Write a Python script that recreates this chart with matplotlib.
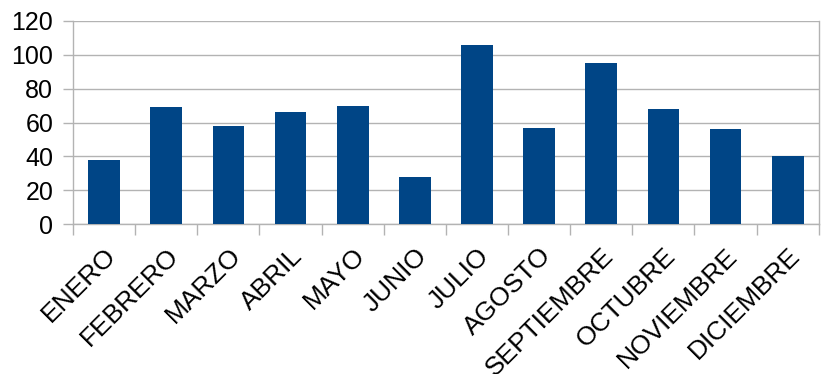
import numpy as np
import matplotlib.pyplot as plt
from matplotlib.ticker import FixedLocator

meses = ["ENERO", "FEBRERO", "MARZO", "ABRIL", "MAYO", "JUNIO", "JULIO",
         "AGOSTO", "SEPTIEMBRE", "OCTUBRE", "NOVIEMBRE", "DICIEMBRE"]
valores = [38, 69, 58, 66, 70, 28, 106, 57, 95, 68, 56, 40]
y_ticks = [0, 20, 40, 60, 80, 100, 120]

plt.rcParams['font.family'] = ['Liberation Sans', 'DejaVu Sans']
gris = "#b3b3b3"

fig = plt.figure(figsize=(8.27, 3.74), dpi=100)
ax = fig.add_axes([0.0883, 0.401, 0.9017, 0.5429])

x = np.arange(len(meses))
ax.bar(x, valores, width=0.51, color="#004586", zorder=3)

ax.set_xlim(-0.5, len(meses) - 0.5)
ax.set_ylim(0, 120)
ax.set_yticks(y_ticks)
ax.yaxis.grid(True, color=gris, linewidth=1.0, zorder=0)

# category labels on major ticks, boundary marks on minor ticks
ax.set_xticks(x)
ax.set_xticklabels(meses, rotation=45, ha="right", rotation_mode="anchor", fontsize=19)
ax.xaxis.set_minor_locator(FixedLocator(np.arange(-0.5, len(meses), 1.0)))
ax.tick_params(axis="x", which="major", length=0, pad=14)
ax.tick_params(axis="x", which="minor", length=8, width=1.0, color=gris, direction="out")
ax.tick_params(axis="y", length=7.2, width=1.0, color=gris, labelsize=18, pad=7)

for side in ["left", "right", "bottom"]:
    ax.spines[side].set_color(gris)
    ax.spines[side].set_linewidth(1.0)
ax.spines["top"].set_visible(False)

fig.savefig("out.png", dpi=100)
